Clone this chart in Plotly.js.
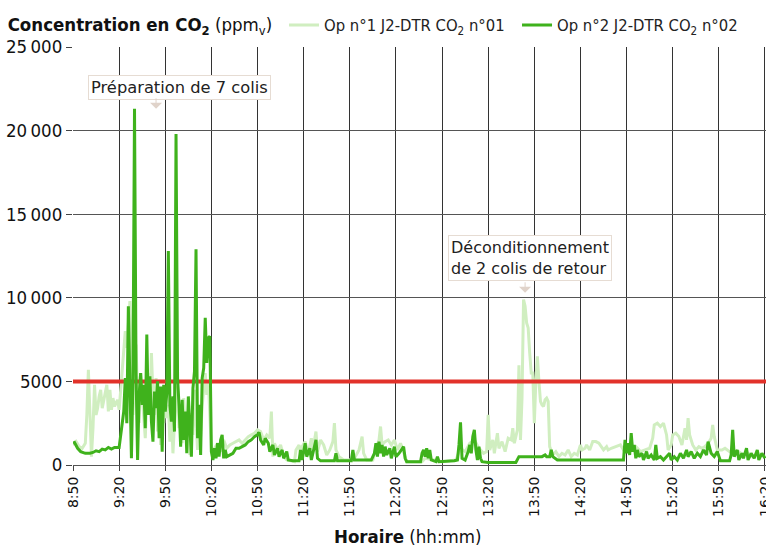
<!DOCTYPE html>
<html><head><meta charset="utf-8">
<script src="https://cdn.plot.ly/plotly-3.0.1.min.js"></script>
<style>html,body{margin:0;padding:0;background:#fff}#chart{width:766px;height:546px}</style>
</head><body><div id="chart"></div>
<script>
const op1Times = ["8:50","8:52","8:54","8:56","8:58","8:59","9:00","9:01","9:02","9:03","9:04","9:05","9:06","9:07","9:08","9:09","9:10","9:11","9:12","9:13","9:14","9:15","9:16","9:17","9:18","9:19","9:20","9:21","9:22","9:23","9:24","9:25","9:27","9:28","9:29","9:30","9:31","9:32","9:33","9:34","9:35","9:36","9:37","9:38","9:39","9:40","9:41","9:42","9:43","9:44","9:45","9:46","9:47","9:48","9:49","9:50","9:51","9:52","9:53","9:54","9:55","9:56","9:57","9:58","9:59","10:00","10:01","10:02","10:03","10:04","10:05","10:06","10:07","10:08","10:09","10:10","10:11","10:12","10:13","10:14","10:15","10:16","10:17","10:18","10:19","10:20","10:22","10:24","10:26","10:28","10:30","10:32","10:34","10:36","10:38","10:40","10:42","10:44","10:46","10:48","10:50","10:52","10:54","10:56","10:58","10:59","11:00","11:01","11:03","11:05","11:07","11:09","11:14","11:15","11:17","11:18","11:19","11:21","11:23","11:25","11:26","11:28","11:29","11:31","11:33","11:35","11:37","11:39","11:40","11:41","11:43","11:46","11:50","11:53","11:56","11:58","11:59","12:01","12:05","12:07","12:09","12:10","12:11","12:13","12:15","12:17","12:19","12:21","12:23","12:25","12:27","12:37","12:39","12:45","12:50","12:59","13:02","13:05","13:08","13:11","13:14","13:17","13:19","13:20","13:21","13:23","13:24","13:26","13:27","13:29","13:31","13:33","13:35","13:36","13:37","13:39","13:40","13:41","13:42","13:43","13:44","13:45","13:46","13:47","13:48","13:49","13:50","13:51","13:52","13:53","13:54","13:55","13:56","13:57","13:58","13:59","14:00","14:02","14:04","14:06","14:08","14:10","14:12","14:14","14:16","14:18","14:20","14:21","14:23","14:24","14:26","14:28","14:30","14:32","14:34","14:35","14:37","14:38","14:40","14:43","14:46","14:48","14:50","14:53","14:56","14:59","15:02","15:05","15:07","15:08","15:10","15:12","15:14","15:16","15:17","15:19","15:20","15:22","15:24","15:26","15:28","15:29","15:30","15:31","15:33","15:35","15:37","15:39","15:41","15:43","15:45","15:46","15:47","15:49","15:52","15:54","15:57","16:00","16:03","16:06","16:09","16:12","16:15","16:18","16:20"];
const op1Values = [1200,1400,1100,1000,1300,3000,5700,3600,500,2200,4800,3000,3400,4100,4500,3400,3900,4300,4800,3200,4500,3300,4000,3500,3700,3900,3300,4500,5600,6500,8000,7000,9800,6200,3000,5000,7200,4000,2500,5500,4000,3000,1600,4000,5500,3500,6700,4200,3000,5200,2000,3800,1200,3500,2500,4400,2800,3600,1400,3000,700,2500,3800,4700,2200,3200,1300,4000,2000,1300,2800,600,3100,1800,4500,2600,900,3000,1700,3500,4500,5500,4200,5000,3000,700,1000,1300,800,1500,1000,1200,1300,1400,1500,1300,1500,1700,1800,1900,2100,2000,1500,1800,1600,3200,500,1300,900,1200,500,300,200,900,1200,600,1100,1400,700,1600,900,2000,800,1500,1200,600,900,1400,2500,900,500,300,300,400,900,1700,700,300,300,1000,1500,2300,1200,1400,1500,1200,1500,900,1300,700,200,200,400,300,200,300,1000,800,1300,1500,1000,700,800,3000,900,1500,700,1900,1000,1400,800,1600,1500,2200,1300,2100,5970,1500,4000,9900,9500,8500,8200,6700,5500,5500,2500,5000,6500,5000,3800,3600,3500,3900,4000,3800,1100,600,800,500,700,600,900,500,700,600,1200,900,1000,1200,900,1400,1400,1300,1000,900,1100,900,1000,1100,1200,900,1200,1000,1100,800,900,1000,1600,2400,2500,2300,2500,1800,900,1200,1800,1900,1700,1200,2200,1500,2800,1800,1200,900,1100,1000,1100,1300,1600,2400,1700,900,900,1000,800,700,800,600,700,500,700,600,500];

const op2Times = ["8:50","8:51","8:53","8:55","8:58","9:01","9:03","9:05","9:07","9:09","9:11","9:13","9:15","9:17","9:20","9:21","9:22","9:23","9:24","9:25","9:26","9:27","9:28","9:29","9:30","9:31","9:32","9:33","9:34","9:35","9:36","9:37","9:38","9:39","9:40","9:41","9:42","9:43","9:44","9:45","9:46","9:47","9:48","9:49","9:50","9:51","9:52","9:53","9:54","9:55","9:56","9:57","9:58","9:59","10:00","10:01","10:02","10:03","10:04","10:05","10:06","10:07","10:08","10:09","10:10","10:11","10:12","10:13","10:14","10:15","10:16","10:17","10:18","10:19","10:20","10:21","10:22","10:23","10:24","10:25","10:26","10:27","10:28","10:29","10:30","10:32","10:34","10:36","10:38","10:40","10:42","10:44","10:46","10:48","10:50","10:51","10:52","10:54","10:55","10:57","10:58","11:00","11:01","11:03","11:04","11:06","11:07","11:09","11:10","11:13","11:17","11:18","11:19","11:21","11:22","11:24","11:25","11:28","11:29","11:31","11:40","11:41","11:42","11:51","11:52","11:53","12:04","12:06","12:07","12:08","12:09","12:10","12:11","12:12","12:13","12:14","12:16","12:17","12:19","12:20","12:22","12:25","12:26","12:27","12:36","12:37","12:38","12:39","12:40","12:41","12:42","12:43","12:46","12:47","12:48","12:58","13:00","13:01","13:02","13:03","13:05","13:07","13:08","13:09","13:10","13:11","13:12","13:13","13:14","13:15","13:16","13:20","13:38","13:40","13:55","13:57","13:58","14:00","14:01","14:02","14:05","14:48","14:49","14:50","14:51","14:52","14:53","14:54","14:55","14:56","14:57","14:58","15:00","15:01","15:03","15:04","15:06","15:08","15:09","15:10","15:12","15:14","15:16","15:18","15:19","15:21","15:23","15:25","15:27","15:29","15:30","15:32","15:34","15:36","15:38","15:40","15:42","15:43","15:45","15:47","15:49","15:51","15:57","15:58","15:59","16:00","16:02","16:03","16:05","16:06","16:08","16:09","16:11","16:13","16:15","16:16","16:18","16:20"];
const op2Values = [1300,1350,1000,800,700,700,750,850,800,950,900,1050,950,1050,1050,1900,2600,3200,5200,2500,9500,3500,400,5200,21300,5500,300,4200,5500,3600,4800,2200,7800,3000,5300,2600,1400,4400,3400,5000,1600,4700,800,4800,3200,4300,12800,3600,2600,4100,2000,19800,5200,3500,1100,3900,1500,3200,700,4100,2300,500,4600,5600,12900,1600,3600,600,5200,5800,8800,6100,7600,7700,800,300,1000,400,1300,500,1500,1800,400,900,500,600,700,1000,1000,1100,1200,1400,1500,1700,1800,1950,1500,1200,1600,1300,800,1200,600,1000,500,900,400,800,300,250,250,900,300,1300,500,1000,300,1500,400,250,250,700,250,250,900,300,300,700,1300,500,1400,700,1200,500,1100,600,1000,400,1100,500,700,1100,400,200,200,700,900,500,1000,400,900,300,200,500,200,250,300,1200,2550,400,300,800,1200,700,1700,2100,900,300,1100,400,200,150,150,500,500,600,500,500,900,500,300,300,1500,700,1300,600,1900,800,1200,400,900,500,700,300,800,400,600,300,1200,400,500,300,500,700,300,500,300,700,400,900,500,800,400,700,500,900,600,1400,700,500,800,250,250,600,2100,500,900,300,700,400,1000,300,700,400,900,300,700,400];

const threshold = 5000;
const yTickVals = [0, 5000, 10000, 15000, 20000, 25000];
const yTickText = ["0", "5000", "10\u2009000", "15\u2009000", "20\u2009000", "25\u2009000"];
const seriesNames = ["Op n°1 J2-DTR CO<sub>2</sub> n°01", "Op n°2 J2-DTR CO<sub>2</sub> n°02"];
const xStart = "8:50", xEnd = "16:20:40";

function toDate(t){ const p=t.split(":"); return "2000-01-01 " + (p[0].length<2?"0"+p[0]:p[0]) + ":" + p[1] + ":" + (p[2]||"00"); }

const condensed = "DejaVu Sans Condensed, Liberation Sans Narrow, DejaVu Sans, sans-serif";

const traces = [
  {x: op1Times.map(toDate), y: op1Values, type: "scatter", mode: "lines", name: seriesNames[0],
   line: {color: "#d0eec0", width: 3}},
  {x: [toDate(xStart), toDate(xEnd)], y: [threshold, threshold], type: "scatter", mode: "lines",
   showlegend: false, hoverinfo: "skip", line: {color: "#e2322a", width: 4}},
  {x: op2Times.map(toDate), y: op2Values, type: "scatter", mode: "lines", name: seriesNames[1],
   line: {color: "#3fb21c", width: 3}}
];

const layout = {
  width: 766, height: 546,
  margin: {l: 73, r: 0, t: 47, b: 81},
  paper_bgcolor: "#fff", plot_bgcolor: "#fff",
  font: {family: "DejaVu Sans, sans-serif", size: 14, color: "#111"},
  title: {text: "<b>Concentration en CO<sub>2</sub></b> (ppm<sub>v</sub>)", x: 0.01, xanchor: "left",
          y: 0.955, yanchor: "middle", xref: "container", yref: "container",
          font: {family: condensed, size: 18.5, color: "#111"}},
  showlegend: true,
  legend: {orientation: "h", x: 0.3045, xanchor: "left", y: 1.052, yanchor: "middle",
           font: {family: condensed, size: 16.5, color: "#222"}, bgcolor: "rgba(0,0,0,0)",
           entrywidth: 188, itemwidth: 30},
  xaxis: {type: "date", range: [toDate(xStart), toDate(xEnd)], tick0: toDate(xStart), dtick: 1800000,
          tickformat: "%-H:%M", tickangle: -90, ticks: "outside", ticklen: 5, tickcolor: "#444",
          ticklabeloverflow: "allow",
          showgrid: true, gridcolor: "#333", gridwidth: 1, showline: true, linecolor: "#555", linewidth: 1,
          zeroline: false, automargin: false,
          tickfont: {family: "DejaVu Sans, sans-serif", size: 14, color: "#111"}},
  yaxis: {range: [0, 25000], tickvals: yTickVals, ticktext: yTickText, ticks: "outside", ticklen: 6,
          tickcolor: "#444", showgrid: true, gridcolor: "#555", gridwidth: 1, zeroline: false,
          showline: false, automargin: false,
          tickfont: {family: condensed, size: 18.5, color: "#111"}},
  annotations: [
    {xref: "paper", yref: "paper", x: 0.482, y: -0.172, xanchor: "center", yanchor: "middle",
     text: "<b>Horaire</b> (hh:mm)", showarrow: false, font: {family: condensed, size: 18.5, color: "#111"}},
    {x: toDate("9:59:30"), y: 22580, xref: "x", yref: "y", text: "Préparation de 7 colis", showarrow: false,
     font: {family: "DejaVu Sans, sans-serif", size: 16.3, color: "#222"}, bgcolor: "#fff",
     bordercolor: "#e6dcd3", borderwidth: 1, borderpad: 2},
    {x: toDate("9:44"), y: 21300, xref: "x", yref: "y", text: "", showarrow: true, ax: 0, ay: -12,
     arrowhead: 1, arrowsize: 2, arrowwidth: 1, arrowcolor: "#e0d3ca"},
    {x: toDate("13:47"), y: 12400, xref: "x", yref: "y", text: "Déconditionnement<br>de 2 colis de retour",
     showarrow: false, align: "left",
     font: {family: "DejaVu Sans, sans-serif", size: 16, color: "#222"}, bgcolor: "#fff",
     bordercolor: "#e6dcd3", borderwidth: 1, borderpad: 2},
    {x: toDate("13:44"), y: 10300, xref: "x", yref: "y", text: "", showarrow: true, ax: 0, ay: -12,
     arrowhead: 1, arrowsize: 2, arrowwidth: 1, arrowcolor: "#e0d3ca"}
  ]
};

Plotly.newPlot("chart", traces, layout, {staticPlot: true, displayModeBar: false});
</script></body></html>
